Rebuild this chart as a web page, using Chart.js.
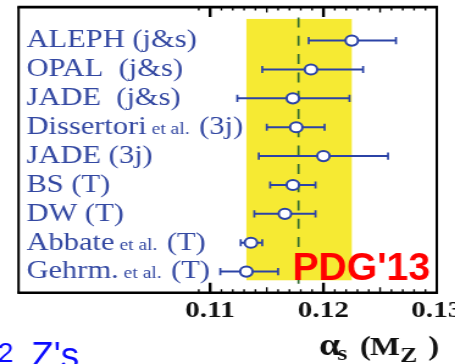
<!DOCTYPE html>
<html lang="en">
<head>
<meta charset="UTF-8">
<title>alpha_s(MZ) from event shapes</title>
<script src="https://cdn.jsdelivr.net/npm/chart.js"></script>
<style>
  html, body { margin: 0; padding: 0; background: #fff; }
  #wrap { width: 455px; height: 364px; overflow: hidden; position: relative; }
  #myChart { display: block; transform: scaleX(1.22); transform-origin: 0 0; }
</style>
</head>
<body>
<div id="wrap"><canvas id="myChart" width="390" height="364"></canvas></div>
<script>
// the original plot is a horizontally stretched picture
const stretch = 1.22;

// data, top row first
const labelMain = ['ALEPH (j&s)', 'OPAL  (j&s)', 'JADE  (j&s)', 'Dissertori', 'JADE (3j)', 'BS (T)', 'DW (T)', 'Abbate', 'Gehrm.'];
const labelTail = ['', '', '', '(3j)', '', '', '', '(T)', '(T)'];
const alphaCentral = [0.1225, 0.1189, 0.1173, 0.1176, 0.1200, 0.1173, 0.1166, 0.1136, 0.1132];
const alphaLow     = [0.1187, 0.1146, 0.1124, 0.1150, 0.1143, 0.1153, 0.1139, 0.1127, 0.1109];
const alphaHigh    = [0.1264, 0.1235, 0.1223, 0.1201, 0.1257, 0.1193, 0.1193, 0.1146, 0.1160];
const pdgBand = [0.1132, 0.1225];
const pdgLine = 0.1178;
const xTicks = [0.11, 0.12, 0.13];

const blue = '#2b43a6';
const labelBlue = '#3348a2';
const serif = "'Liberation Serif', 'Times New Roman', serif";
const sans = "'Liberation Sans', Arial, sans-serif";

// row extents of the yellow band and the dashed line (in row units)
const bandRows = [-0.75, 8.3];
const dashRows = [-0.8, 8.55];

const points = alphaCentral.map((v, i) => ({x: v, y: i}));
const errData = [];
alphaLow.forEach((lo, i) => {
  errData.push({x: lo, y: i}, {x: alphaHigh[i], y: i}, {x: null, y: null});
});
const dash = [{x: pdgLine, y: dashRows[0]}, {x: pdgLine, y: dashRows[1]}];

const framePlugin = {
  id: 'frame',
  beforeDatasetsDraw(chart) {
    const {ctx, scales: {x, y}} = chart;
    const x0 = x.getPixelForValue(pdgBand[0]), x1 = x.getPixelForValue(pdgBand[1]);
    const y0 = y.getPixelForValue(bandRows[0]), y1 = y.getPixelForValue(bandRows[1]);
    ctx.save();
    ctx.fillStyle = '#f6ea33';
    ctx.fillRect(x0, y0, x1 - x0, y1 - y0);
    ctx.restore();
  },
  afterDatasetsDraw(chart) {
    const {ctx, chartArea: a, scales: {x, y}} = chart;
    ctx.save();
    // frame
    ctx.strokeStyle = '#000';
    ctx.lineWidth = 2.6;
    ctx.beginPath();
    ctx.moveTo(a.left - 1, a.top); ctx.lineTo(a.right + 1, a.top);
    ctx.moveTo(a.left - 1, a.bottom); ctx.lineTo(a.right + 1, a.bottom);
    ctx.stroke();
    ctx.lineWidth = 2;
    ctx.beginPath();
    ctx.moveTo(a.left, a.top); ctx.lineTo(a.left, a.bottom);
    ctx.moveTo(a.right, a.top); ctx.lineTo(a.right, a.bottom);
    ctx.stroke();

    // inward ticks, top and bottom
    for (let k = 109; k < 130; k++) {
      const px = x.getPixelForValue(k / 1000);
      const len = k % 10 === 0 ? 10 : (k % 5 === 0 ? 5.5 : 3.5);
      ctx.lineWidth = k % 10 === 0 ? 2.4 : 1.4;
      ctx.beginPath();
      ctx.moveTo(px, a.top); ctx.lineTo(px, a.top + len);
      ctx.moveTo(px, a.bottom); ctx.lineTo(px, a.bottom - len);
      ctx.stroke();
    }

    // row labels
    ctx.fillStyle = labelBlue;
    ctx.textBaseline = 'alphabetic';
    ctx.textAlign = 'left';
    labelMain.forEach((txt, i) => {
      const py = y.getPixelForValue(i) + 6.8;
      let cx = a.left + 6.5;
      ctx.font = `25px ${serif}`;
      ctx.fillText(txt, cx, py);
      cx += ctx.measureText(txt).width;
      if (labelTail[i]) {
        ctx.font = `16px ${serif}`;
        ctx.fillText(' et al.', cx, py);
        cx += ctx.measureText(' et al. ').width;
        ctx.font = `25px ${serif}`;
        cx += ctx.measureText(' ').width * 0.6;
        ctx.fillText(labelTail[i], cx, py);
      }
    });

    // axis title
    ctx.fillStyle = '#111';
    const title = [
      {t: '\u03b1', size: 31, dx: -96.5, by: 354.5},
      {t: 's', size: 21, dx: -81.5, by: 360},
      {t: '(', size: 27, dx: -63, by: 355},
      {t: 'M', size: 26, dx: -54.7, by: 355},
      {t: 'Z', size: 21, dx: -30.1, by: 362},
      {t: ')', size: 27, dx: -7, by: 355}
    ];
    title.forEach(s => {
      ctx.font = `bold ${s.size}px ${serif}`;
      ctx.fillText(s.t, a.right + s.dx, s.by);
    });

    // overlays that were not stretched in the original
    ctx.save();
    ctx.translate(a.right - 6.7 / stretch, y.getPixelForValue(bandRows[1]));
    ctx.scale(1.03 / stretch, 1);
    ctx.fillStyle = '#ff0000';
    ctx.font = `bold 38px ${sans}`;
    ctx.textAlign = 'right';
    ctx.fillText("PDG'13", 0, 0);
    ctx.restore();

    ctx.save();
    ctx.scale(1 / stretch, 1);
    ctx.fillStyle = '#0a0aff';
    ctx.textAlign = 'left';
    ctx.font = `28px ${sans}`;
    ctx.fillText('2', -2, 361.7);
    ctx.font = `37px ${sans}`;
    ctx.fillText("Z's", 31, 368);
    ctx.restore();

    ctx.restore();
  }
};

const ctx = document.getElementById('myChart').getContext('2d');
const myChart = new Chart(ctx, {
  type: 'scatter',
  data: {
    datasets: [{
      data: points,
      pointRadius: 5.1,
      pointBorderWidth: 2,
      pointBackgroundColor: '#fff',
      pointBorderColor: blue,
      order: 0
    }, {
      data: errData,
      showLine: true,
      spanGaps: false,
      borderColor: blue,
      borderWidth: 2,
      pointStyle: 'line',
      pointRotation: 90,
      pointRadius: 3.6,
      pointBorderWidth: 1.7,
      pointBorderColor: blue,
      order: 1
    }, {
      data: dash,
      showLine: true,
      borderColor: '#2f6a2f',
      borderWidth: 1.7,
      borderDash: [10, 8.3],
      pointRadius: 0,
      order: 2
    }]
  },
  options: {
    responsive: false,
    animation: false,
    devicePixelRatio: 1,
    layout: { padding: { left: 15.2, right: 32, top: 5, bottom: 35.3 } },
    plugins: { legend: { display: false }, tooltip: { enabled: false } },
    scales: {
      x: {
        type: 'linear',
        min: 0.0931,
        max: 0.13,
        afterBuildTicks: s => { s.ticks = xTicks.map(v => ({ value: v })); },
        grid: { display: false, drawTicks: false },
        border: { display: false },
        ticks: {
          padding: 3.6,
          color: '#111',
          maxRotation: 0,
          autoSkip: false,
          font: { family: serif, size: 24, weight: 'bold' },
          callback: v => v.toFixed(2)
        }
      },
      y: { type: 'linear', display: false, reverse: true, min: -1.16, max: 8.73 }
    }
  },
  plugins: [framePlugin]
});
</script>
</body>
</html>
